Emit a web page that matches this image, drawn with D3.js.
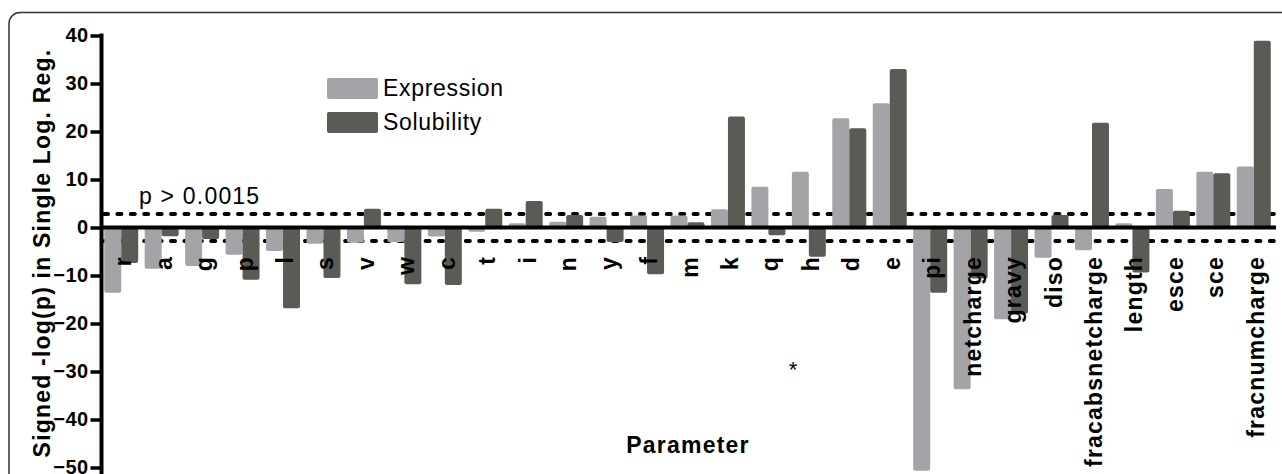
<!DOCTYPE html>
<html>
<head>
<meta charset="utf-8">
<script src="https://cdn.jsdelivr.net/npm/d3@7"></script>
<style>
  html, body { margin: 0; padding: 0; background: #fff; }
  svg { display: block; font-family: "Liberation Sans", Arial, sans-serif; }
</style>
</head>
<body>
<svg id="chart" width="1282" height="474"></svg>
<script>
// ---- data ----
const categories = ["r","a","g","p","l","s","v","w","c","t","i","n","y","f","m","k","q","h","d","e",
  "pi","netcharge","gravy","diso","fracabsnetcharge","length","esce","sce","fracnumcharge"];
const expression = [-13.6,-8.6,-8.0,-5.7,-4.9,-3.4,-3.2,-3.0,-1.9,-0.9,0.9,1.2,2.25,2.5,2.5,3.8,8.5,11.6,22.75,25.9,
  -50.7,-33.7,-19.1,-6.3,-4.75,0.9,8.0,11.6,12.7];
const solubility = [-7.4,-1.8,-2.4,-10.9,-16.8,-10.5,3.9,-11.8,-12.0,3.9,5.5,2.6,-3.0,-9.75,1.1,23.1,-1.6,-6.1,20.7,33.0,
  -13.6,-10.6,-17.9,2.6,21.8,-9.4,3.5,11.3,38.9];
const seriesNames = ["Expression", "Solubility"];
const yTicks = [40, 30, 20, 10, 0, -10, -20, -30, -40, -50];
const threshold = 2.82;   // -log(0.0015)
const thresholdLabel = "p > 0.0015";
const yTitle = "Signed -log(p) in Single Log. Reg.";
const xTitle = "Parameter";

// ---- styles ----
const colors = { Expression: "#a4a4a8", Solubility: "#5a5b55" };

const svg = d3.select("#chart");

// frame
svg.append("rect")
  .attr("x", 9).attr("y", 12.5).attr("width", 1300).attr("height", 520)
  .attr("rx", 11).attr("fill", "none").attr("stroke", "#333").attr("stroke-width", 1.5);

const y = d3.scaleLinear().domain([-50, 40]).range([467.5, 35.5]);
const x = d3.scaleBand().domain(categories).range([101, 1274]).paddingInner(0.16).paddingOuter(0.08);
const xs = d3.scaleBand().domain(seriesNames).range([0, x.bandwidth()]);

const rows = categories.map((c, i) => ({ cat: c, Expression: expression[i], Solubility: solubility[i] }));

// threshold dashed lines (behind bars)
svg.append("g").selectAll("line").data([threshold, -threshold]).join("line")
  .attr("x1", 104).attr("x2", 1276)
  .attr("y1", d => y(d)).attr("y2", d => y(d))
  .attr("stroke", "#000").attr("stroke-width", 4)
  .attr("stroke-dasharray", "4,9.4").attr("stroke-linecap", "round");

// bars
const groups = svg.append("g").selectAll("g").data(rows).join("g")
  .attr("transform", d => `translate(${x(d.cat)},0)`);
groups.selectAll("rect").data(d => seriesNames.map(s => ({ s, v: d[s] }))).join("rect")
  .attr("x", d => xs(d.s))
  .attr("width", xs.bandwidth())
  .attr("y", d => Math.min(y(d.v), y(0)))
  .attr("height", d => Math.abs(y(d.v) - y(0)))
  .attr("rx", 2)
  .attr("fill", d => colors[d.s]);

// zero line
svg.append("line")
  .attr("x1", 101).attr("x2", 1276)
  .attr("y1", y(0)).attr("y2", y(0))
  .attr("stroke", "#000").attr("stroke-width", 4);

// y axis
const yAxis = svg.append("g")
  .attr("transform", "translate(101.5,0)")
  .call(d3.axisLeft(y).tickValues(yTicks).tickSize(11).tickSizeOuter(0).tickPadding(2));
yAxis.select(".domain").attr("stroke", "#000").attr("stroke-width", 4)
  .attr("d", `M0,${y(40) - 2}V474`);
yAxis.selectAll(".tick line").attr("stroke", "#000").attr("stroke-width", 3.5);
yAxis.selectAll(".tick text")
  .attr("font-family", "Liberation Sans, Arial, sans-serif")
  .attr("font-size", 20).attr("font-weight", "bold")
  .attr("letter-spacing", 0.4)
  .attr("fill", "#000");

// category labels
svg.append("g").selectAll("text").data(categories).join("text")
  .attr("transform", d => `translate(${x(d) + x.bandwidth() / 2 + 10},256) rotate(-90)`)
  .attr("text-anchor", "end")
  .attr("font-size", 23).attr("font-weight", "bold")
  .attr("letter-spacing", 1.2)
  .attr("fill", "#000")
  .text(d => d);

// y title
svg.append("text")
  .attr("transform", "translate(50,253) rotate(-90)")
  .attr("text-anchor", "middle")
  .attr("font-size", 23).attr("font-weight", "bold").attr("letter-spacing", 1.2)
  .text(yTitle);

// x title
svg.append("text")
  .attr("x", 688).attr("y", 453)
  .attr("text-anchor", "middle")
  .attr("font-size", 23).attr("font-weight", "bold").attr("letter-spacing", 1.2)
  .text(xTitle);

// threshold label
svg.append("text")
  .attr("x", 139).attr("y", 204)
  .attr("font-size", 23).attr("letter-spacing", 1.2)
  .text(thresholdLabel);

// asterisk
svg.append("text")
  .attr("x", 793).attr("y", 377)
  .attr("text-anchor", "middle")
  .attr("font-size", 22)
  .text("*");

// legend
const legend = svg.append("g").selectAll("g").data(seriesNames).join("g")
  .attr("transform", (d, i) => `translate(327,${78 + i * 34})`);
legend.append("rect")
  .attr("width", 51).attr("height", 21).attr("rx", 2)
  .attr("fill", d => colors[d]);
legend.append("text")
  .attr("x", 56).attr("y", 18)
  .attr("font-size", 23).attr("letter-spacing", 0.7)
  .text(d => d);
</script>
</body>
</html>
